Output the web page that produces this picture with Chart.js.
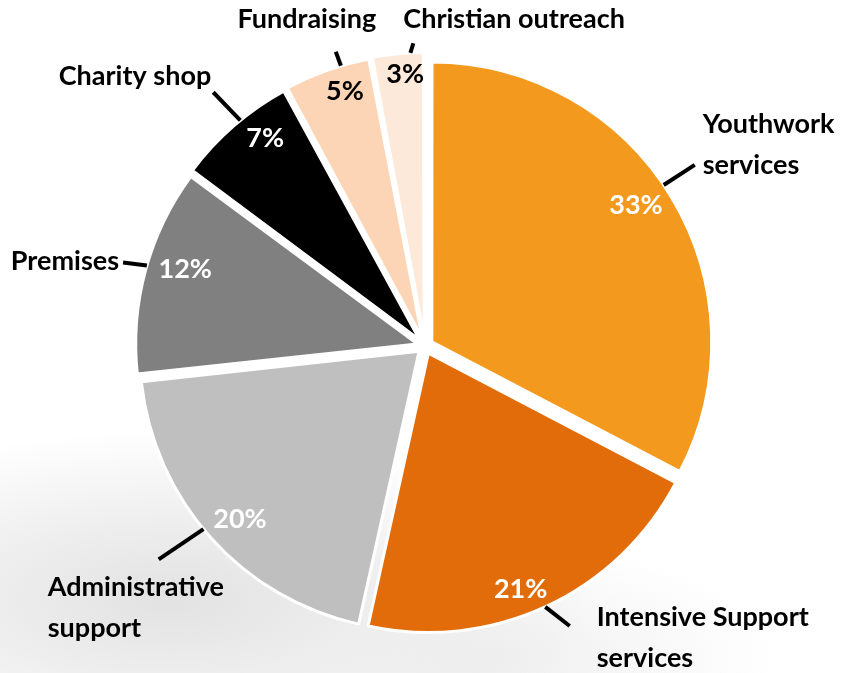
<!DOCTYPE html>
<html>
<head>
<meta charset="utf-8">
<script src="https://cdn.jsdelivr.net/npm/chart.js@4.4.1/dist/chart.umd.min.js"></script>
<style>
  html, body { margin: 0; padding: 0; width: 859px; height: 673px; overflow: hidden; }
  body {
    background:
      radial-gradient(ellipse 420px 170px at 170px 600px, rgba(226,226,226,1) 0%, rgba(236,236,236,0.9) 45%, rgba(255,255,255,0) 100%),
      radial-gradient(ellipse 300px 120px at 480px 660px, rgba(236,236,236,0.9) 0%, rgba(255,255,255,0) 100%),
      #ffffff;
  }
  #wrap { position: relative; width: 859px; height: 673px; }
</style>
</head>
<body>
<div id="wrap"><canvas id="c" width="859" height="673"></canvas></div>
<script>
// ---- data ----
const categories = ["Youthwork services", "Intensive Support services", "Administrative support", "Premises", "Charity shop", "Fundraising", "Christian outreach"];
const labelLines = [["Youthwork", "services"], ["Intensive Support", "services"], ["Administrative", "support"], ["Premises"], ["Charity shop"], ["Fundraising"], ["Christian outreach"]];
const values = [33, 21, 20, 12, 7, 5, 3];

// ---- styles ----
const sliceColors = ["#F39A1E", "#E36C0A", "#BFBFBF", "#808080", "#000000", "#FBD5B5", "#FDE9D9"];
const pctColors = ["#FFFFFF", "#FFFFFF", "#FFFFFF", "#FFFFFF", "#FFFFFF", "#000000", "#000000"];
// percentage label placement: angle tweak (deg) from slice middle, radius as fraction of outer radius
const pctPlacement = [
  { tweak: -2.7, rf: 0.911 },
  { tweak: 3.4,  rf: 0.933 },
  { tweak: -1.0, rf: 0.905 },
  { tweak: 2.7,  rf: 0.903 },
  { tweak: 3.6,  rf: 0.943 },
  { tweak: 2.2,  rf: 0.960 },
  { tweak: 1.2,  rf: 0.981 }
];
// leader placement: start angle tweak (deg), direction (deg clockwise from top), length; text dx, dy (first line), align
const labelPlacement = [
  { tweak: -2.8, dir: 57,  len: 37, dx: 8,    dy: -41, align: "left" },
  { tweak: 0.2,  dir: 128, len: 31, dx: 27,   dy: -9,  align: "left" },
  { tweak: 2.3,  dir: 236, len: 54, dx: -111, dy: 28,  align: "left" },
  { tweak: 1.0,  dir: 277, len: 24, dx: -4,   dy: -1,  align: "right" },
  { tweak: 1.7,  dir: 316, len: 39, dx: -2,   dy: -16, align: "right" },
  { tweak: 2.9,  dir: 340, len: 15, dx: -29,  dy: -32, align: "center" },
  { tweak: 2.5,  dir: 17,  len: 10, dx: -10,  dy: -24, align: "left" }
];
const FONT = "bold 27px Lato, 'Open Sans', sans-serif";
const LINE_H = 41;
const DEG = Math.PI / 180;

const labelPlugin = {
  id: "pieLabels",
  afterDatasetsDraw(chart) {
    const ctx = chart.ctx;
    const meta = chart.getDatasetMeta(0);
    const ds = chart.data.datasets[0];
    ctx.save();
    ctx.font = FONT;
    ctx.textBaseline = "middle";
    meta.data.forEach((arc, i) => {
      const p = arc.getProps(["x", "y", "startAngle", "endAngle", "outerRadius", "circumference"], true);
      // same explode geometry as Chart.js ArcElement.draw
      const t = (arc.options.offset || 0) / 4;
      const fix = 1 - Math.sin(Math.min(Math.PI, p.endAngle - p.startAngle));
      const edge = p.outerRadius + t + t * fix;
      const mid = (p.startAngle + p.endAngle) / 2;
      // percentage label
      const pp = pctPlacement[i];
      const pa = mid + pp.tweak * DEG;
      const pr = p.outerRadius * pp.rf;
      ctx.fillStyle = pctColors[i];
      ctx.textAlign = "center";
      ctx.fillText(ds.data[i] + "%", p.x + Math.cos(pa) * pr, p.y + Math.sin(pa) * pr + 1);
      // leader line
      const lp = labelPlacement[i];
      const a = mid + lp.tweak * DEG;
      const sx = p.x + Math.cos(a) * edge, sy = p.y + Math.sin(a) * edge;
      const d = lp.dir * DEG;
      const ex = sx + Math.sin(d) * lp.len, ey = sy - Math.cos(d) * lp.len;
      ctx.strokeStyle = "#000000";
      ctx.lineWidth = 4;
      ctx.beginPath();
      ctx.moveTo(sx, sy);
      ctx.lineTo(ex, ey);
      ctx.stroke();
      // category text
      ctx.fillStyle = "#000000";
      ctx.textAlign = lp.align;
      labelLines[i].forEach((ln, k) => {
        ctx.fillText(ln, ex + lp.dx, ey + lp.dy + k * LINE_H);
      });
    });
    ctx.restore();
  }
};

new Chart(document.getElementById("c"), {
  type: "pie",
  data: {
    labels: categories,
    datasets: [{
      data: values,
      backgroundColor: sliceColors,
      borderColor: "#FFFFFF",
      borderWidth: 3,
      offset: 32
    }]
  },
  options: {
    responsive: false,
    animation: false,
    radius: 279,
    layout: { padding: { left: 125, right: 134, top: 46, bottom: 27 } },
    plugins: { legend: { display: false }, tooltip: { enabled: false } }
  },
  plugins: [labelPlugin]
});
</script>
</body>
</html>
